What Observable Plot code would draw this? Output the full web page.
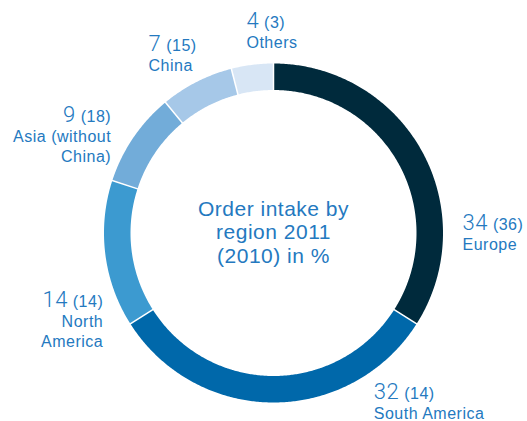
<!DOCTYPE html>
<html>
<head>
<meta charset="utf-8">
<script src="https://cdn.jsdelivr.net/npm/d3@7"></script>
<script src="https://cdn.jsdelivr.net/npm/@observablehq/plot@0.6"></script>
<style>
  html, body { margin: 0; padding: 0; background: #fff; }
  #chart { width: 527px; height: 421px; }
  #chart svg text { letter-spacing: 0.5px; }
</style>
</head>
<body>
<div id="chart"></div>
<script>
// ---- data ----
const regions = ["Europe", "South America", "North America", "Asia (without China)", "China", "Others"];
const labelNames = ["Europe", "South America", "North\nAmerica", "Asia (without\nChina)", "China", "Others"];
const share2011 = [34, 32, 14, 9, 7, 4];
const share2010 = [36, 14, 14, 18, 15, 3];
const sliceColors = ["#002a3c", "#0068aa", "#3c9ad0", "#72acd9", "#a6c8e8", "#d8e6f5"];
const title = "Order intake by\nregion 2011\n(2010) in %";

// ---- geometry ----
const W = 527, H = 421, CX = 273, CY = 232.5, R = 169.5, RIN = 143;
const inner = RIN / R;
const textColor = "#2479bf";

const pie = d3.pie().sort(null).value(d => d.v)
  (regions.map((r, i) => ({region: r, v: share2011[i]})));
const pt = (r, a) => ({x: r * Math.sin(a), y: r * Math.cos(a)});

const ringPts = [];
for (const s of pie) {
  const n = Math.max(2, Math.ceil((s.endAngle - s.startAngle) / (Math.PI / 360)));
  const pts = [];
  for (let k = 0; k <= n; k++) pts.push(pt(1, s.startAngle + (s.endAngle - s.startAngle) * k / n));
  for (let k = n; k >= 0; k--) pts.push(pt(inner, s.startAngle + (s.endAngle - s.startAngle) * k / n));
  pts.push(pts[0]);
  for (const p of pts) ringPts.push({...p, region: s.data.region});
}
const bounds = pie.map(s => {
  const p1 = pt(inner - 0.02, s.startAngle), p2 = pt(1.02, s.startAngle);
  return {x1: p1.x, y1: p1.y, x2: p2.x, y2: p2.y};
});
const labels = pie.map((s, i) => {
  const p = pt(1, (s.startAngle + s.endAngle) / 2);
  return {...p, region: regions[i], text: `${share2011[i]} (${share2010[i]})\n${labelNames[i]}`};
});

const lab = (name, textAnchor, dx, dy) => Plot.text(labels.filter(d => d.region === name), {
  x: "x", y: "y", text: "text", textAnchor, lineAnchor: "top", dx, dy,
  fontSize: 16, lineHeight: 1.25, fill: textColor
});

const svg = Plot.plot({
  width: W, height: H,
  margin: 0,
  x: {domain: [-CX / R, (W - CX) / R], axis: null},
  y: {domain: [-(H - CY) / R, CY / R], axis: null},
  color: {domain: regions, range: sliceColors},
  style: {fontFamily: "'Liberation Sans', Arial, sans-serif", background: "#fff"},
  marks: [
    Plot.line(ringPts, {x: "x", y: "y", z: "region", fill: "region", stroke: null}),
    Plot.link(bounds, {x1: "x1", y1: "y1", x2: "x2", y2: "y2", stroke: "#fff", strokeWidth: 1.5}),
    Plot.text([title], {x: () => 0, y: () => 0, text: d => d, fontSize: 21, lineHeight: 1.12,
      dy: -1.5, fill: textColor, textAnchor: "middle"}),
    lab("Europe", "start", 40.5, 64.3),
    lab("South America", "start", 100.3, -17.5),
    lab("North America", "end", -2.1, 38.8),
    lab("Asia (without China)", "end", -22.1, -29.7),
    lab("China", "start", -48, -44.7),
    lab("Others", "start", -5.8, -51.2)
  ]
});

d3.select(svg).selectAll("tspan").each(function () {
  const m = this.textContent.match(/^(\d+) (\(\d+\))$/);
  if (m) {
    this.textContent = "";
    d3.select(this).append("tspan")
      .attr("font-size", 22).attr("font-weight", 300)
      .attr("font-family", "Roboto, 'Liberation Sans', sans-serif")
      .text(m[1]);
    d3.select(this).append("tspan").text(" " + m[2]);
  }
});

document.getElementById("chart").appendChild(svg);
</script>
</body>
</html>
